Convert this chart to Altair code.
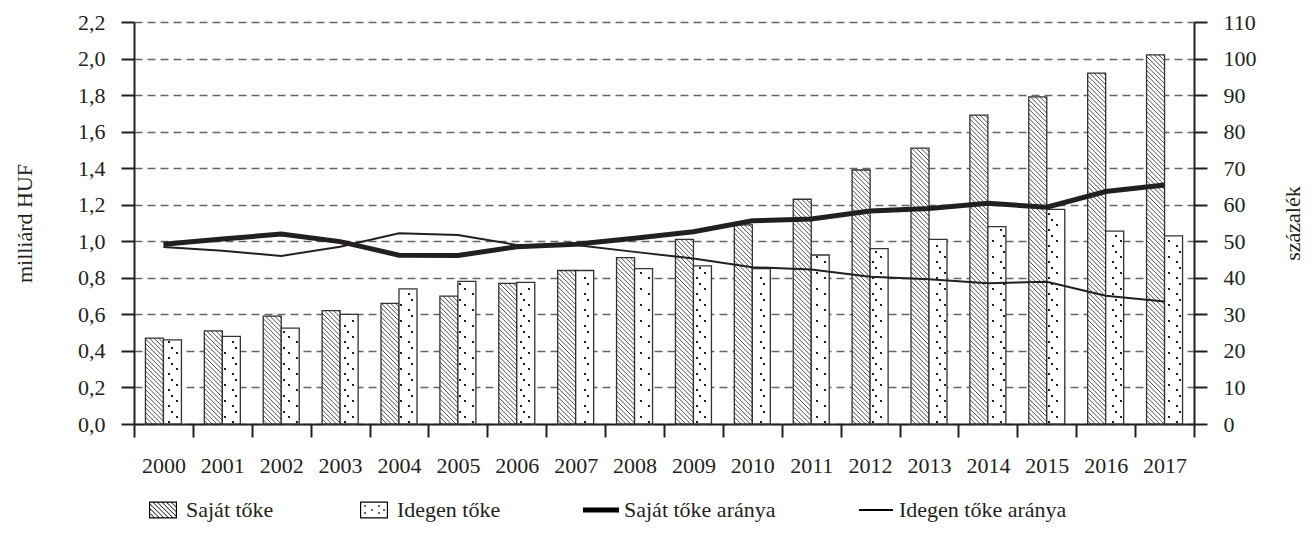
import math
import altair as alt
import pandas as pd

# ---------------- data ----------------
years = [str(y) for y in range(2000, 2018)]
sajat_toke = [0.47, 0.51, 0.59, 0.62, 0.66, 0.70, 0.77, 0.84, 0.91, 1.01,
              1.09, 1.23, 1.39, 1.51, 1.69, 1.79, 1.92, 2.02]
idegen_toke = [0.46, 0.48, 0.525, 0.60, 0.74, 0.78, 0.775, 0.84, 0.85, 0.865,
               0.85, 0.925, 0.96, 1.01, 1.08, 1.175, 1.055, 1.03]
sajat_arany = [49.2, 50.6, 52.0, 49.9, 46.2, 46.1, 48.5, 49.2, 50.8, 52.6,
               55.6, 56.1, 58.3, 59.0, 60.4, 59.3, 63.6, 65.4]
idegen_arany = [48.4, 47.4, 46.0, 48.5, 52.2, 51.7, 49.0, 49.0, 47.1, 45.3,
                42.9, 42.3, 40.3, 39.6, 38.5, 38.9, 35.1, 33.5]
series_names = ["Saját tőke", "Idegen tőke", "Saját tőke aránya", "Idegen tőke aránya"]
left_ticks = [round(0.2 * k, 1) for k in range(12)]
right_ticks = list(range(0, 111, 10))

# ---------------- layout / style ----------------
FONT = "Times New Roman, Liberation Serif, Tinos, DejaVu Serif, serif"
TXT = "#231f20"
N = len(years)
W, H = 1060, 402
YL_MAX, YR_MAX = 2.2, 110
SX = W / N          # px per x unit (one band)
SY = H / YL_MAX     # px per left-axis unit
BAR_PX = 18.0
bw = BAR_PX / SX

# bars table
bar_rows = []
for i in range(N):
    c = i + 0.5
    bar_rows.append({"year": years[i], "kind": series_names[0], "x0": c - bw, "x1": c, "v": sajat_toke[i]})
    bar_rows.append({"year": years[i], "kind": series_names[1], "x0": c, "x1": c + bw, "v": idegen_toke[i]})
bars_df = pd.DataFrame(bar_rows)

# hatch pattern ("\\") inside the own-capital bars
STEP = 4.6
hatch_rows = []
for i, v in enumerate(sajat_toke):
    X1 = (i + 0.5) * SX
    X0 = X1 - BAR_PX
    Hp = v * SY
    for k in range(math.ceil(X0 / STEP), math.floor((X1 + Hp) / STEP) + 1):
        c = k * STEP
        xa, xb = max(X0, c - Hp), min(X1, c)
        if xb - xa < 0.4:
            continue
        hatch_rows.append({"hx1": xa / SX, "hy1": (c - xa) / SY,
                           "hx2": xb / SX, "hy2": (c - xb) / SY})
hatch_df = pd.DataFrame(hatch_rows)

# stipple pattern inside the borrowed-capital bars
TILE = 16
TILE_PTS = [(3, 2), (11, 7), (6, 12)]
dot_rows = []
for i, v in enumerate(idegen_toke):
    X0 = (i + 0.5) * SX
    X1 = X0 + BAR_PX
    Hp = v * SY
    for tx in range(int(X0 // TILE) - 1, int(X1 // TILE) + 2):
        for ty in range(0, int(Hp // TILE) + 2):
            for px, py in TILE_PTS:
                X, Y = tx * TILE + px, ty * TILE + py
                if X0 + 1.8 <= X <= X1 - 1.8 and 1.8 <= Y <= Hp - 1.8:
                    dot_rows.append({"dx": X / SX, "dy": Y / SY})
dots_df = pd.DataFrame(dot_rows)

# lines table
line_rows = []
for i in range(N):
    line_rows.append({"xc": i + 0.5, "series": series_names[2], "pct": sajat_arany[i]})
    line_rows.append({"xc": i + 0.5, "series": series_names[3], "pct": idegen_arany[i]})
lines_df = pd.DataFrame(line_rows)

# ---------------- legend symbol paths (px -> unit, 1 unit = 18 px) ----------------
U = 18.0


def f(v):
    return f"{v / U:.3f}"


def rect(x0, y0, x1, y1, cw=True):
    if cw:
        return f"M{f(x0)},{f(y0)}H{f(x1)}V{f(y1)}H{f(x0)}Z"
    return f"M{f(x0)},{f(y0)}V{f(y1)}H{f(x1)}V{f(y0)}Z"


def frame(hw, hh, t):
    return rect(-hw, -hh, hw, hh) + rect(-hw + t, -hh + t, hw - t, hh - t, cw=False)


hw, hh, t = 14.0, 8.5, 1.2
ih_w, ih_h = hw - t, hh - t
hatch_path = frame(hw, hh, t)
cc = -30.0
while cc <= 30.0:
    xa, xb = max(-ih_w, cc - ih_h), min(ih_w, cc + ih_h)
    if xb - xa > 0.5:
        ya, yb = xa - cc, xb - cc
        hatch_path += (f"M{f(xa - 0.5)},{f(ya)}L{f(xb - 0.5)},{f(yb)}"
                       f"L{f(xb + 0.5)},{f(yb)}L{f(xa + 0.5)},{f(ya)}Z")
    cc += 4.6
dot_path = frame(hw, hh, t)
for (ddx, ddy) in [(-9, -4), (-9, 3), (-2, 0), (5, -4), (5, 3), (10, 0)]:
    dot_path += rect(ddx - 0.8, ddy - 0.8, ddx + 0.8, ddy + 0.8)
thick_path = rect(-18, -2.6, 18, 2.6)
thin_path = rect(-17, -1.0, 17, 1.0)
legend_paths = [hatch_path, dot_path, thick_path, thin_path]

# ---------------- scales / axes ----------------
x_scale = alt.Scale(domain=[0, N], nice=False, zero=False)
year_arr = "[" + ",".join(f"'{y}'" for y in years) + "]"
x_axis = alt.Axis(values=list(range(N + 1)), labelExpr=f"{year_arr}[datum.value] || ''",
                  labelOffset=SX / 2, labelFlush=False, labelOverlap=False,
                  tickSize=13, tickWidth=2, tickColor=TXT, domainColor=TXT, domainWidth=2,
                  labelPadding=18, labelFont=FONT, labelFontSize=22, labelColor=TXT,
                  grid=False, title=None)
yl_scale = alt.Scale(domain=[0, YL_MAX], nice=False, zero=True)
yl_axis = alt.Axis(values=left_ticks, labelExpr="replace(format(datum.value, '.1f'), '.', ',')",
                   grid=True, gridDash=[8, 5], gridColor="#666666", gridWidth=1.4,
                   tickSize=13, tickWidth=2, tickColor=TXT, domainColor=TXT, domainWidth=2,
                   labelPadding=16, labelFont=FONT, labelFontSize=22, labelColor=TXT,
                   title="milliárd HUF", titleFont=FONT, titleFontSize=22,
                   titleFontWeight="normal", titleColor=TXT, titlePadding=41)
yr_scale = alt.Scale(domain=[0, YR_MAX], nice=False, zero=True)
yr_axis = alt.Axis(orient="right", values=right_ticks, grid=False,
                   tickSize=13, tickWidth=2, tickColor=TXT, domainColor=TXT, domainWidth=2,
                   labelPadding=16, labelFont=FONT, labelFontSize=22, labelColor=TXT,
                   title="százalék", titleFont=FONT, titleFontSize=22, titleAngle=270,
                   titleFontWeight="normal", titleColor=TXT, titlePadding=48)

# ---------------- layers ----------------
bars = alt.Chart(bars_df).mark_rect(fill="white", stroke="#333333", strokeWidth=1.3).encode(
    x=alt.X("x0:Q", scale=x_scale, axis=x_axis),
    x2="x1:Q",
    y=alt.Y("v:Q", scale=yl_scale, axis=yl_axis),
    y2=alt.datum(0),
)
hatch = alt.Chart(hatch_df).mark_rule(color="#222222", strokeWidth=0.8).encode(
    x=alt.X("hx1:Q", scale=x_scale, axis=x_axis),
    x2="hx2:Q",
    y=alt.Y("hy1:Q", scale=yl_scale, axis=yl_axis),
    y2="hy2:Q",
)
dots = alt.Chart(dots_df).mark_square(size=3.5, color="#111111", opacity=1).encode(
    x=alt.X("dx:Q", scale=x_scale, axis=x_axis),
    y=alt.Y("dy:Q", scale=yl_scale, axis=yl_axis),
)
left = alt.layer(bars, hatch, dots)

thick = alt.Chart(lines_df).transform_filter(
    alt.datum.series == series_names[2]
).mark_line(color=TXT, strokeWidth=5).encode(
    x=alt.X("xc:Q", scale=x_scale, axis=x_axis),
    y=alt.Y("pct:Q", scale=yr_scale, axis=yr_axis),
)
thin = alt.Chart(lines_df).transform_filter(
    alt.datum.series == series_names[3]
).mark_line(color=TXT, strokeWidth=2).encode(
    x=alt.X("xc:Q", scale=x_scale, axis=x_axis),
    y=alt.Y("pct:Q", scale=yr_scale, axis=yr_axis),
)
legend_pts = alt.Chart(lines_df).mark_point(filled=True, color="black", opacity=0).encode(
    x=alt.X("xc:Q", scale=x_scale, axis=x_axis),
    y=alt.Y("pct:Q", scale=yr_scale, axis=yr_axis),
    shape=alt.Shape("series:N", scale=alt.Scale(domain=series_names, range=legend_paths),
                    legend=alt.Legend(title=None, orient="none", legendX=11, legendY=470,
                                      direction="horizontal", columns=4, columnPadding=82,
                                      symbolSize=1296, symbolOpacity=1, symbolStrokeWidth=0,
                                      symbolFillColor="black",
                                      labelFont=FONT, labelFontSize=22, labelColor=TXT,
                                      labelOffset=5, labelLimit=400, padding=0)),
)
right = alt.layer(thick, thin, legend_pts)

chart = alt.layer(left, right).resolve_scale(y="independent").properties(
    width=W, height=H,
    padding={"left": 5, "top": 3, "right": 0, "bottom": 5},
).configure_view(stroke=None)

chart.save("out.html", embed_options={"renderer": "svg", "actions": False})
